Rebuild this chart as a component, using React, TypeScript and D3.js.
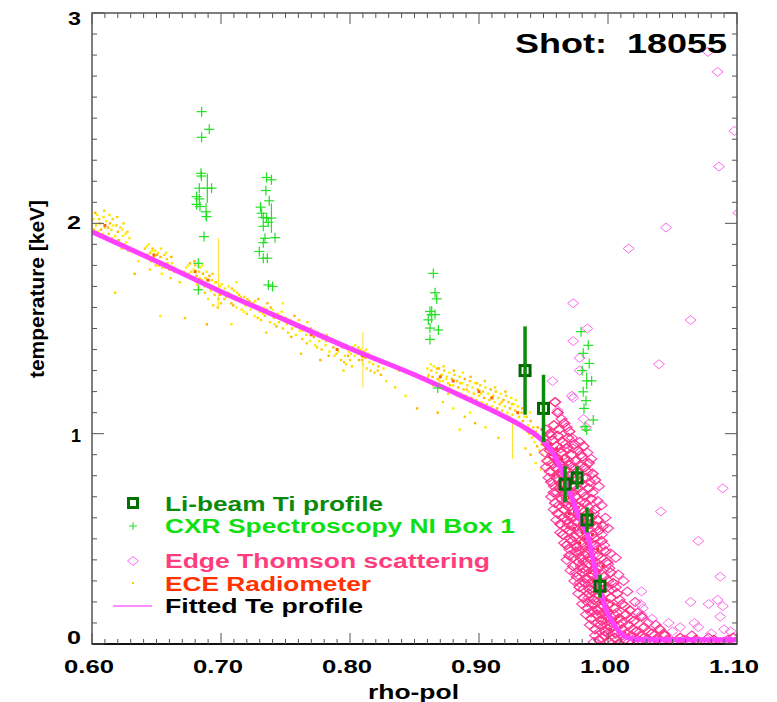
import React from 'react';
import * as d3 from 'd3';

// ---------- data ----------
const xTickValues = [0.6, 0.7, 0.8, 0.9, 1.0, 1.1];
const xTickLabels = ['0.60', '0.70', '0.80', '0.90', '1.00', '1.10'];
const yTickValues = [0, 1, 2, 3];
const yTickLabels = ['0', '1', '2', '3'];
const shotLabel = 'Shot:  18055';
const xTitle = 'rho-pol';
const yTitle = 'temperature [keV]';

const legendNames = ['Li-beam Ti profile', 'CXR Spectroscopy NI Box 1', 'Edge Thomson scattering', 'ECE Radiometer', 'Fitted Te profile'];

// fitted Te profile [rho, keV]
const fittedTe: [number, number][] = [
  [0.60, 1.96], [0.65, 1.82], [0.70, 1.675], [0.75, 1.54], [0.80, 1.405], [0.85, 1.28], [0.90, 1.14],
  [0.92, 1.08], [0.935, 1.03], [0.945, 0.99], [0.955, 0.93], [0.963, 0.84], [0.970, 0.73], [0.977, 0.61],
  [0.984, 0.52], [0.991, 0.33], [0.998, 0.17], [1.004, 0.10], [1.010, 0.05], [1.018, 0.025], [1.03, 0.02], [1.10, 0.02],
];

// ECE radiometer points (yellow)
const eceYellow: [number, number][] = [
  [0.601,2.02],[0.603,1.99],[0.604,2.04],[0.606,2.00],[0.607,1.97],[0.609,2.03],[0.610,1.98],[0.611,2.01],[0.613,1.95],[0.614,2.00],
  [0.615,1.97],[0.616,2.02],[0.618,1.94],[0.619,1.99],[0.620,1.96],[0.621,1.92],[0.622,1.98],[0.624,1.94],[0.625,1.90],[0.612,1.93],
  [0.617,1.91],[0.623,1.88],[0.626,1.95],[0.628,1.87],[0.633,1.76],[0.629,1.93],[0.618,1.67],[0.653,1.56],
  [0.641,1.88],[0.643,1.85],[0.644,1.90],[0.645,1.86],[0.646,1.83],[0.647,1.88],[0.648,1.84],[0.649,1.87],[0.650,1.82],[0.651,1.86],
  [0.652,1.80],[0.653,1.84],[0.655,1.81],[0.656,1.85],[0.657,1.79],[0.658,1.83],[0.660,1.78],[0.662,1.81],[0.645,1.78],[0.654,1.76],
  [0.661,1.74],[0.664,1.77],[0.636,1.82],[0.668,1.72],
  [0.673,1.79],[0.675,1.76],[0.676,1.81],[0.677,1.77],[0.678,1.74],[0.679,1.78],[0.680,1.80],[0.681,1.75],[0.682,1.72],[0.683,1.77],
  [0.684,1.79],[0.685,1.73],[0.686,1.76],[0.687,1.70],[0.688,1.74],[0.689,1.77],[0.690,1.71],[0.691,1.75],[0.692,1.68],[0.693,1.73],
  [0.694,1.70],[0.695,1.66],[0.696,1.72],[0.697,1.68],[0.698,1.64],[0.699,1.70],[0.700,1.62],[0.701,1.67],[0.690,1.64],[0.694,1.61],
  [0.683,1.69],[0.672,1.55],[0.689,1.52],
  [0.703,1.69],[0.704,1.65],[0.706,1.70],[0.707,1.66],[0.708,1.62],[0.710,1.68],[0.711,1.64],[0.712,1.60],[0.714,1.66],[0.715,1.63],
  [0.716,1.59],[0.718,1.65],[0.719,1.61],[0.720,1.57],[0.722,1.63],[0.723,1.59],[0.725,1.62],[0.726,1.56],[0.727,1.60],[0.729,1.64],
  [0.730,1.58],[0.731,1.54],[0.733,1.60],[0.734,1.56],[0.736,1.62],[0.737,1.57],[0.738,1.53],[0.740,1.59],[0.741,1.55],[0.743,1.51],
  [0.744,1.57],[0.745,1.53],[0.747,1.58],[0.748,1.50],[0.750,1.55],[0.751,1.52],[0.752,1.48],[0.754,1.54],[0.755,1.50],[0.757,1.56],
  [0.758,1.47],[0.760,1.52],[0.761,1.49],[0.763,1.45],[0.764,1.51],[0.766,1.47],[0.767,1.53],[0.769,1.44],[0.770,1.49],[0.772,1.46],
  [0.773,1.42],[0.775,1.48],[0.776,1.44],[0.778,1.40],[0.779,1.46],[0.781,1.42],[0.782,1.47],[0.784,1.39],[0.785,1.44],[0.787,1.41],
  [0.788,1.37],[0.790,1.43],[0.791,1.39],[0.793,1.35],[0.794,1.41],[0.796,1.37],[0.797,1.33],[0.799,1.39],[0.800,1.35],[0.802,1.41],
  [0.712,1.72],[0.735,1.48],[0.748,1.62],[0.762,1.38],[0.777,1.35],[0.708,1.52],[0.795,1.30],
  [0.804,1.42],[0.806,1.38],[0.807,1.35],[0.808,1.40],[0.809,1.37],[0.810,1.33],[0.811,1.39],[0.812,1.36],[0.813,1.31],[0.814,1.38],
  [0.815,1.34],[0.816,1.30],[0.817,1.36],[0.818,1.33],[0.819,1.29],[0.820,1.35],[0.822,1.32],[0.824,1.28],
  [0.828,1.25],[0.835,1.22],[0.843,1.18],[0.838,1.30],[0.852,1.12],
  [0.860,1.31],[0.861,1.28],[0.862,1.25],[0.863,1.30],[0.864,1.27],[0.865,1.32],[0.866,1.24],[0.867,1.29],[0.868,1.26],[0.869,1.31],
  [0.870,1.23],[0.871,1.28],[0.872,1.25],[0.873,1.30],[0.874,1.22],[0.875,1.27],[0.876,1.24],[0.877,1.29],[0.878,1.21],[0.879,1.26],
  [0.880,1.23],[0.881,1.28],[0.882,1.20],[0.883,1.25],[0.884,1.22],[0.885,1.27],[0.886,1.19],[0.887,1.24],[0.888,1.21],[0.889,1.26],
  [0.890,1.18],[0.891,1.23],[0.892,1.20],[0.893,1.25],[0.894,1.17],[0.895,1.22],[0.896,1.19],[0.897,1.24],[0.898,1.16],[0.899,1.21],
  [0.900,1.18],[0.901,1.23],[0.902,1.15],[0.903,1.20],[0.904,1.17],[0.905,1.22],[0.906,1.14],[0.907,1.19],[0.908,1.16],[0.909,1.21],
  [0.910,1.13],[0.911,1.18],[0.912,1.15],[0.913,1.20],[0.914,1.12],[0.915,1.17],[0.916,1.14],[0.917,1.19],[0.918,1.11],[0.919,1.16],
  [0.920,1.13],[0.921,1.18],[0.922,1.10],[0.923,1.15],[0.924,1.12],[0.925,1.17],[0.926,1.09],[0.927,1.14],[0.928,1.11],[0.929,1.06],
  [0.930,1.13],[0.931,1.08],[0.932,1.04],[0.933,1.10],[0.934,1.06],[0.935,1.02],
  [0.872,1.15],[0.880,1.12],[0.889,1.08],[0.897,1.05],[0.905,1.03],[0.876,1.19],[0.893,1.10],[0.915,0.98],[0.868,1.10],[0.885,1.02],
  [0.937,1.08],[0.938,1.04],[0.939,1.00],[0.940,1.06],[0.941,0.98],[0.942,1.03],[0.943,0.96],[0.944,1.01],[0.945,0.94],[0.946,0.99],
  [0.947,0.92],[0.948,0.97],[0.949,0.90],[0.950,0.95],[0.951,0.88],[0.952,0.93],[0.953,0.86],[0.954,0.91],[0.940,0.90],[0.944,0.86],
  [0.936,0.93],[0.948,0.83],
];

// more ECE radiometer points (yellow, later time slices)
const eceYellow2: [number, number][] = [
  [0.6015,1.97],[0.6025,2.05],[0.6045,1.96],[0.6055,2.02],[0.6085,1.95],[0.6095,2.06],[0.6125,1.98],[0.6135,2.04],[0.6155,1.93],[0.6165,1.99],
  [0.6195,2.03],[0.6205,1.92],[0.6235,1.97],[0.6245,2.00],[0.6265,1.91],[0.6275,1.96],
  [0.6415,1.84],[0.6425,1.89],[0.6455,1.82],[0.6465,1.87],[0.6495,1.80],[0.6505,1.85],[0.6535,1.88],[0.6545,1.79],[0.6575,1.86],[0.6585,1.81],
  [0.6615,1.84],[0.6635,1.79],
  [0.6715,1.77],[0.6745,1.80],[0.6765,1.74],[0.6795,1.82],[0.6815,1.71],[0.6835,1.74],[0.6855,1.80],[0.6875,1.67],[0.6895,1.73],[0.6915,1.69],
  [0.6935,1.76],[0.6955,1.72],[0.6975,1.60],[0.6995,1.66],[0.7005,1.71],
  [0.7025,1.64],[0.7055,1.67],[0.7085,1.69],[0.7095,1.61],[0.7125,1.67],[0.7155,1.65],[0.7175,1.58],[0.7205,1.64],[0.7235,1.61],[0.7265,1.63],
  [0.7285,1.55],[0.7325,1.57],[0.7355,1.59],[0.7385,1.60],[0.7415,1.52],[0.7455,1.56],[0.7485,1.54],[0.7525,1.53],[0.7545,1.46],[0.7575,1.51],
  [0.7605,1.54],[0.7635,1.49],[0.7665,1.43],[0.7695,1.50],[0.7725,1.48],[0.7745,1.41],[0.7785,1.45],[0.7815,1.44],[0.7835,1.37],[0.7865,1.45],
  [0.7895,1.38],[0.7925,1.42],[0.7955,1.34],[0.7985,1.37],[0.8005,1.38],[0.8015,1.32],
  [0.8035,1.37],[0.8065,1.41],[0.8095,1.35],[0.8125,1.40],[0.8155,1.37],[0.8185,1.35],[0.8215,1.30],[0.8235,1.34],[0.8260,1.31],
  [0.8605,1.27],[0.8625,1.33],[0.8645,1.23],[0.8675,1.31],[0.8695,1.25],[0.8725,1.32],[0.8745,1.26],[0.8775,1.23],[0.8805,1.30],[0.8835,1.18],
  [0.8855,1.24],[0.8875,1.29],[0.8905,1.21],[0.8935,1.27],[0.8955,1.15],[0.8985,1.24],[0.9015,1.19],[0.9045,1.25],[0.9065,1.12],[0.9095,1.17],
  [0.9125,1.22],[0.9155,1.10],[0.9175,1.15],[0.9205,1.20],[0.9235,1.08],[0.9255,1.14],[0.9285,1.16],[0.9305,1.05],[0.9335,1.12],[0.9355,1.08],
  [0.9375,1.01],[0.9395,1.10],[0.9425,0.99],[0.9455,1.03],[0.9485,0.95],[0.9515,0.99],[0.9535,0.89],
];

// ECE radiometer points drawn red (band + steep gradient region)
const eceRed: [number, number][] = [
  [0.610,1.99],[0.648,1.85],[0.680,1.77],[0.690,1.73],[0.720,1.62],[0.750,1.54],[0.770,1.47],[0.790,1.40],[0.810,1.37],
  [0.870,1.27],[0.880,1.25],[0.900,1.20],[0.910,1.17],[0.930,1.10],[0.950,0.97],
  [0.951,0.97],[0.953,0.93],[0.955,0.95],[0.956,0.90],[0.957,0.92],[0.958,0.87],[0.959,0.89],[0.960,0.85],[0.961,0.88],[0.962,0.82],
  [0.963,0.85],[0.964,0.79],[0.965,0.83],[0.966,0.76],[0.967,0.80],[0.968,0.73],[0.969,0.77],[0.970,0.70],[0.971,0.74],[0.972,0.67],
  [0.973,0.71],[0.974,0.63],[0.975,0.68],[0.976,0.60],[0.977,0.65],[0.978,0.57],[0.979,0.61],[0.980,0.53],[0.981,0.58],[0.982,0.50],
  [0.983,0.54],[0.984,0.46],[0.985,0.50],[0.986,0.42],[0.987,0.46],[0.988,0.38],[0.989,0.42],[0.990,0.34],[0.991,0.38],[0.992,0.30],
  [0.993,0.34],[0.994,0.26],[0.995,0.30],[0.996,0.22],[0.997,0.25],[0.998,0.18],[0.999,0.21],[1.000,0.14],[1.002,0.16],[1.004,0.10],
  [1.006,0.12],[1.008,0.07],[1.010,0.08],[1.013,0.05],[1.016,0.04],[1.020,0.03],[1.025,0.02],
  [0.958,0.80],[0.962,0.75],[0.966,0.68],[0.970,0.62],[0.974,0.55],[0.978,0.48],[0.982,0.41],[0.986,0.34],[0.990,0.27],[0.994,0.20],
  [0.998,0.12],[1.002,0.07],[0.960,0.93],[0.964,0.88],[0.968,0.84],[0.972,0.78],[0.976,0.72],[0.980,0.66],[0.984,0.59],[0.988,0.52],
  [0.992,0.45],[0.996,0.37],[1.000,0.28],[1.004,0.19],[1.008,0.13],
  [1.030,0.02],[1.040,0.015],[1.050,0.02],[1.055,0.025],[1.060,0.02],[1.065,0.015],[1.070,0.02],[1.075,0.018],[1.080,0.022],
  [1.085,0.015],[1.090,0.02],[1.095,0.018],
];

// ECE vertical error bars [rho, low, high]
const eceErr: [number, number, number][] = [
  [0.698, 1.59, 1.93], [0.810, 1.22, 1.485], [0.926, 0.88, 1.06],
];

// Edge Thomson scattering, main cloud [rho, keV]
const thomsonCloud: [number, number][] = [
  [0.958,1.04],[0.962,1.02],[0.966,1.05],[0.955,1.00],[0.970,1.01],[0.959,1.15],[0.961,1.10],
  [0.957,0.97],[0.961,0.99],[0.965,0.96],[0.969,0.98],[0.974,0.95],[0.953,0.95],
  [0.955,0.92],[0.960,0.94],[0.964,0.91],[0.968,0.93],[0.972,0.90],[0.977,0.92],[0.981,0.94],
  [0.953,0.87],[0.958,0.89],[0.962,0.86],[0.966,0.88],[0.970,0.85],[0.975,0.87],[0.980,0.89],[0.985,0.86],
  [0.955,0.82],[0.959,0.84],[0.963,0.81],[0.967,0.83],[0.971,0.80],[0.976,0.82],[0.982,0.84],[0.988,0.81],
  [0.956,0.77],[0.960,0.79],[0.964,0.76],[0.968,0.78],[0.973,0.75],[0.978,0.77],[0.983,0.79],[0.990,0.78],
  [0.958,0.72],[0.962,0.74],[0.966,0.71],[0.970,0.73],[0.975,0.70],[0.980,0.72],[0.985,0.74],
  [0.959,0.67],[0.964,0.69],[0.968,0.66],[0.972,0.68],[0.977,0.65],[0.982,0.67],[0.987,0.69],
  [0.961,0.62],[0.966,0.64],[0.970,0.61],[0.974,0.63],[0.979,0.60],[0.984,0.62],[0.990,0.64],
  [0.963,0.57],[0.968,0.59],[0.972,0.56],[0.976,0.58],[0.981,0.55],[0.986,0.57],[0.992,0.59],[0.996,0.56],
  [0.965,0.52],[0.970,0.54],[0.974,0.51],[0.978,0.53],[0.983,0.50],[0.988,0.52],[0.993,0.54],
  [0.968,0.47],[0.972,0.49],[0.976,0.46],[0.980,0.48],[0.985,0.45],[0.990,0.47],[0.995,0.49],
  [0.970,0.42],[0.975,0.44],[0.979,0.41],[0.983,0.43],[0.987,0.40],[0.992,0.42],[0.998,0.44],
  [0.973,0.37],[0.977,0.39],[0.981,0.36],[0.985,0.38],[0.989,0.35],[0.994,0.37],[0.999,0.39],
  [0.976,0.32],[0.980,0.34],[0.984,0.31],[0.988,0.33],[0.992,0.30],[0.997,0.32],[1.002,0.34],
  [0.978,0.27],[0.982,0.29],[0.986,0.26],[0.990,0.28],[0.994,0.25],[0.999,0.27],[1.004,0.29],
  [0.981,0.22],[0.985,0.24],[0.989,0.21],[0.993,0.23],[0.997,0.20],[1.002,0.22],[1.007,0.24],
  [0.984,0.17],[0.988,0.19],[0.992,0.16],[0.996,0.18],[1.000,0.15],[1.005,0.17],[1.011,0.19],[1.017,0.16],
  [0.987,0.12],[0.991,0.14],[0.995,0.11],[0.999,0.13],[1.003,0.10],[1.008,0.12],[1.014,0.14],[1.020,0.11],[1.026,0.13],
  [0.990,0.07],[0.994,0.09],[0.998,0.06],[1.002,0.08],[1.006,0.05],[1.011,0.07],[1.016,0.09],[1.022,0.06],[1.028,0.08],[1.034,0.05],[1.040,0.07],
  [0.993,0.02],[0.997,0.04],[1.001,0.01],[1.005,0.03],[1.009,0.00],[1.013,0.02],[1.018,0.04],[1.023,0.01],[1.028,0.03],[1.033,0.00],
  [1.038,0.02],[1.044,0.04],[1.050,0.01],[1.056,0.03],[1.062,0.01],[1.068,0.02],[1.075,0.00],[1.082,0.02],[1.090,0.01],[1.097,0.03],
];

// Edge Thomson scattering, second set of profiles in the cloud
const thomsonCloud2: [number, number][] = [
  [0.952,1.02],[0.964,1.07],[0.968,1.03],[0.972,0.98],[0.978,0.96],[0.956,0.99],
  [0.951,0.91],[0.957,0.90],[0.963,0.93],[0.967,0.95],[0.973,0.93],[0.979,0.90],[0.984,0.91],
  [0.952,0.84],[0.957,0.86],[0.961,0.83],[0.965,0.85],[0.969,0.87],[0.974,0.84],[0.978,0.85],[0.984,0.82],[0.987,0.88],
  [0.954,0.79],[0.958,0.75],[0.962,0.78],[0.966,0.80],[0.970,0.77],[0.975,0.79],[0.980,0.76],[0.986,0.77],[0.993,0.75],
  [0.956,0.70],[0.960,0.72],[0.964,0.73],[0.968,0.69],[0.973,0.72],[0.977,0.74],[0.982,0.70],[0.988,0.72],[0.992,0.68],
  [0.958,0.64],[0.962,0.66],[0.966,0.67],[0.970,0.65],[0.975,0.66],[0.979,0.68],[0.985,0.65],[0.989,0.62],[0.995,0.66],
  [0.960,0.59],[0.965,0.60],[0.969,0.57],[0.973,0.60],[0.977,0.61],[0.982,0.58],[0.987,0.60],[0.991,0.56],[0.998,0.60],
  [0.963,0.53],[0.967,0.55],[0.971,0.50],[0.975,0.55],[0.980,0.52],[0.985,0.54],[0.990,0.50],[0.995,0.52],[1.000,0.55],
  [0.966,0.48],[0.970,0.45],[0.974,0.47],[0.978,0.44],[0.982,0.46],[0.987,0.48],[0.992,0.45],[0.997,0.47],[1.002,0.43],
  [0.968,0.40],[0.973,0.41],[0.977,0.43],[0.981,0.39],[0.985,0.41],[0.990,0.38],[0.995,0.41],[1.000,0.38],[1.006,0.41],
  [0.971,0.35],[0.975,0.34],[0.979,0.37],[0.983,0.35],[0.987,0.33],[0.991,0.36],[0.996,0.33],[1.001,0.36],[1.008,0.33],
  [0.974,0.30],[0.978,0.29],[0.982,0.31],[0.986,0.29],[0.990,0.31],[0.995,0.28],[1.000,0.30],[1.006,0.27],[1.012,0.30],
  [0.977,0.24],[0.981,0.26],[0.985,0.22],[0.989,0.25],[0.993,0.27],[0.998,0.24],[1.003,0.26],[1.009,0.21],[1.015,0.25],
  [0.980,0.19],[0.984,0.20],[0.988,0.16],[0.992,0.20],[0.996,0.15],[1.001,0.19],[1.007,0.15],[1.013,0.18],[1.021,0.20],
  [0.983,0.14],[0.987,0.15],[0.991,0.10],[0.995,0.14],[1.000,0.11],[1.005,0.14],[1.011,0.10],[1.017,0.12],[1.023,0.15],[1.031,0.10],
  [0.986,0.09],[0.990,0.04],[0.994,0.06],[0.999,0.09],[1.004,0.06],[1.009,0.09],[1.014,0.05],[1.019,0.07],[1.025,0.04],[1.031,0.06],[1.037,0.09],[1.043,0.05],
  [0.989,0.01],[0.995,0.03],[1.000,0.05],[1.003,0.00],[1.007,0.02],[1.011,0.04],[1.016,0.01],[1.021,0.03],[1.026,0.00],[1.031,0.02],
  [1.036,0.04],[1.041,0.00],[1.047,0.02],[1.053,0.00],[1.059,0.02],[1.065,0.04],[1.071,0.01],[1.078,0.03],[1.086,0.00],[1.093,0.02],[1.099,0.01],
];

// Edge Thomson scattering, scattered points
const thomsonScatter: [number, number][] = [
  [1.0775,2.815],[1.085,2.72],[1.098,2.44],[1.086,2.27],[1.101,2.05],[1.045,1.98],[1.016,1.88],[1.064,1.54],
  [0.973,1.62],[0.984,1.50],[0.973,1.44],[0.978,1.36],[0.978,1.30],[0.957,1.25],[0.972,1.18],[0.973,1.17],[0.961,1.11],
  [0.981,1.07],[0.983,1.03],[1.0395,1.33],[1.089,0.74],[1.041,0.63],[1.070,0.49],[1.087,0.32],[0.988,0.79],[0.995,0.46],
  [1.026,0.25],[1.025,0.19],[1.027,0.17],[1.026,0.14],[1.034,0.12],[1.064,0.20],[1.078,0.19],[1.085,0.21],[1.089,0.18],
  [1.087,0.13],[1.067,0.10],[1.047,0.10],[1.056,0.08],[1.090,0.07],[1.070,0.08],[1.050,0.06],[1.080,0.05],[1.095,0.06],
];

// CXR Spectroscopy [rho, keV, error]
const cxr: [number, number, number][] = [
  [0.6850,2.531,0],[0.6909,2.447,0],[0.6850,2.409,0],[0.6845,2.238,0],[0.6848,2.225,0],[0.6832,2.167,0],[0.6894,2.167,0.07],
  [0.6927,2.167,0],[0.6811,2.127,0],[0.6832,2.116,0],[0.6811,2.090,0],[0.6837,2.080,0],[0.6884,2.055,0.04],[0.6888,2.032,0],
  [0.6868,1.937,0],[0.6824,1.810,0],[0.6824,1.684,0],
  [0.7353,2.218,0],[0.7391,2.207,0],[0.7348,2.156,0],[0.7374,2.107,0],[0.7307,2.077,0],[0.7315,2.048,0],[0.7328,2.028,0],
  [0.7353,2.025,0],[0.7391,2.025,0.07],[0.7366,2.005,0],[0.7328,1.986,0],[0.7341,1.929,0],[0.7419,1.932,0],[0.7328,1.908,0],
  [0.7297,1.866,0],[0.7328,1.834,0],[0.7359,1.834,0],[0.7367,1.707,0],[0.7400,1.700,0],
  [0.8646,1.762,0],[0.8659,1.670,0],[0.8672,1.641,0],[0.8620,1.581,0],[0.8633,1.566,0.04],[0.8659,1.566,0],[0.8607,1.541,0],
  [0.8620,1.502,0],[0.8685,1.493,0],[0.8620,1.448,0],[0.8680,1.217,0],
  [0.9791,1.485,0],[0.9847,1.420,0],[0.9808,1.382,0],[0.9855,1.334,0],[0.9835,1.251,0.04],[0.9873,1.251,0],[0.9808,1.199,0],
  [0.9829,1.157,0],[0.9814,1.120,0],[0.9886,1.065,0],[0.9822,1.033,0],[0.9835,1.017,0],[0.9800,1.300,0],
];

// Li-beam Ti profile [rho, keV, error]
const liBeam: [number, number, number][] = [
  [0.9357, 1.30, 0.21], [0.950, 1.12, 0.16], [0.9667, 0.76, 0.085], [0.976, 0.79, 0.055], [0.9837, 0.59, 0.06], [0.9938, 0.275, 0.055],
];

// ---------- component ----------
const W = 777, H = 702;
const PL = 92, PR = 737, PT = 13, PB = 644;
const FONT = '"Liberation Sans", Arial, Helvetica, sans-serif';

export default function App() {
  const x = d3.scaleLinear().domain([0.6, 1.1]).range([PL, PR]);
  const y = d3.scaleLinear().domain([0, 3]).range([PB, PT]);
  const line = d3.line<[number, number]>().x(d => x(d[0])).y(d => y(d[1])).curve(d3.curveMonotoneX);

  const xMinor = d3.range(0, 51).map(i => 0.6 + i * 0.01);
  const yMinor = d3.range(0, 31).map(i => i * 0.1);
  const axisColor = '#555';

  const diamond = (cx: number, cy: number) => `M${cx},${cy - 4.5}L${cx + 5.5},${cy}L${cx},${cy + 4.5}L${cx - 5.5},${cy}Z`;
  const yellowShades = ['#ffe800', '#ffd800', '#fff000', '#ffd000', '#ffb800'];
  const yLabelBase = [644, 442, 229, 25];
  const yLabelLen = [14, 10, 14, 13];
  const allYellow = eceYellow.concat(eceYellow2);

  return (
    <svg width={W} height={H} style={{ position: 'absolute', left: 0, top: 0, background: '#fff' }}>
      <defs>
        <clipPath id="plotClip"><rect x={PL} y={PT} width={PR - PL} height={PB - PT} /></clipPath>
      </defs>
      <rect x={0} y={0} width={W} height={H} fill="#fff" />

      <g clipPath="url(#plotClip)">
        {/* ECE yellow */}
        {allYellow.map((d, i) => (
          <rect key={'ey' + i} x={x(d[0]) - 1.2} y={y(d[1]) - 1.2} width={2.4} height={2.4} fill={yellowShades[i % 5]} />
        ))}
        {eceErr.map((d, i) => (
          <line key={'ee' + i} x1={x(d[0])} x2={x(d[0])} y1={y(d[1])} y2={y(d[2])} stroke="#ffe030" strokeWidth={1} />
        ))}
        {/* Thomson */}
        {thomsonScatter.map((d, i) => (
          <path key={'ts' + i} d={diamond(x(d[0]), y(d[1]))} fill="none" stroke="#ff66ee" strokeWidth={1} />
        ))}
        {eceRed.map((d, i) => (
          <rect key={'er' + i} x={x(d[0]) - 1.5} y={y(d[1]) - 1.5} width={3} height={3} fill={i < 15 ? '#ff6a00' : '#ff1e28'} />
        ))}
        {thomsonCloud2.map((d, i) => (
          <path key={'tc2' + i} d={diamond(x(d[0]), y(d[1]))} fill="none" stroke="#ff44b0" strokeWidth={1.2} />
        ))}
        {thomsonCloud.map((d, i) => (
          <path key={'tc' + i} d={diamond(x(d[0]), y(d[1]))} fill="none" stroke="#ff3385" strokeWidth={1.4} />
        ))}
        {/* fitted line */}
        <path d={line(fittedTe) || ''} fill="none" stroke="#ff40ff" strokeWidth={5} strokeLinejoin="round" />
        {/* CXR */}
        {cxr.map((d, i) => {
          const cx = x(d[0]), cy = y(d[1]);
          const e = d[2] > 0 ? Math.max(5, Math.abs(y(d[1] + d[2]) - cy)) : 5;
          return (
            <g key={'cx' + i} stroke="#22e022" strokeWidth={1.2}>
              <line x1={cx - 5} x2={cx + 5} y1={cy} y2={cy} />
              <line x1={cx} x2={cx} y1={cy - e} y2={cy + e} />
            </g>
          );
        })}
        {/* Li-beam */}
        {liBeam.map((d, i) => {
          const cx = x(d[0]), cy = y(d[1]);
          return (
            <g key={'li' + i}>
              <rect x={cx - 5} y={cy - 5} width={10} height={10} fill="none" stroke="#006400" strokeWidth={3} />
              <line x1={cx} x2={cx} y1={y(d[1] - d[2])} y2={y(d[1] + d[2])} stroke="#0a8c0a" strokeWidth={3.5} />
            </g>
          );
        })}
      </g>

      {/* axes frame */}
      <rect x={PL} y={PT} width={PR - PL} height={PB - PT} fill="none" stroke={axisColor} strokeWidth={1.5} />
      <line x1={PL} x2={PR} y1={PB} y2={PB} stroke="#111" strokeWidth={2} />
      {xMinor.map((v, i) => {
        const major = i % 10 === 0;
        const len = major ? 11 : 5;
        return (
          <g key={'xt' + i} stroke={axisColor} strokeWidth={1}>
            <line x1={x(v)} x2={x(v)} y1={PB} y2={PB - len} />
            <line x1={x(v)} x2={x(v)} y1={PT} y2={PT + len} />
          </g>
        );
      })}
      {yMinor.map((v, i) => {
        const major = i % 10 === 0;
        const len = major ? 12 : 5;
        return (
          <g key={'yt' + i} stroke={axisColor} strokeWidth={1}>
            <line x1={PL} x2={PL + len} y1={y(v)} y2={y(v)} />
            <line x1={PR} x2={PR - len} y1={y(v)} y2={y(v)} />
          </g>
        );
      })}

      {/* tick labels */}
      {xTickValues.map((v, i) => (
        <text key={'xl' + i} x={x(v) - 3} y={673} textAnchor="middle" fontFamily={FONT} fontWeight="bold" fontSize={19}
          textLength={50} lengthAdjust="spacingAndGlyphs" fill="#000">{xTickLabels[i]}</text>
      ))}
      {yTickValues.map((v, i) => (
        <text key={'yl' + i} x={81 - yLabelLen[i]} y={yLabelBase[i]} fontFamily={FONT} fontWeight="bold" fontSize={19}
          textLength={yLabelLen[i]} lengthAdjust="spacingAndGlyphs" fill="#000">{yTickLabels[i]}</text>
      ))}

      {/* titles */}
      <text x={368} y={699} fontFamily={FONT} fontWeight="bold" fontSize={20} textLength={91} lengthAdjust="spacingAndGlyphs">{xTitle}</text>
      <text transform="translate(44,378) rotate(-90)" x={0} y={0} fontFamily={FONT} fontWeight="bold" fontSize={20}
        textLength={178} lengthAdjust="spacingAndGlyphs">{yTitle}</text>
      <text x={515} y={53} fontFamily={FONT} fontWeight="bold" fontSize={28} textLength={212} lengthAdjust="spacingAndGlyphs" xmlSpace="preserve">{shotLabel}</text>

      {/* legend */}
      <g>
        <rect x={128.5} y={498.5} width={9} height={9} fill="none" stroke="#007000" strokeWidth={3} />
        <line x1={129} x2={137} y1={526} y2={526} stroke="#22e022" strokeWidth={1} />
        <line x1={133} x2={133} y1={522} y2={530} stroke="#22e022" strokeWidth={1} />
        <path d={diamond(133, 561)} fill="none" stroke="#ff66ff" strokeWidth={1} />
        <rect x={132} y={582} width={2} height={2} fill="#ffd000" />
        <line x1={113} x2={152} y1={606} y2={606} stroke="#ff66ff" strokeWidth={1.5} />
        <text x={165} y={511} fontFamily={FONT} fontWeight="bold" fontSize={20} fill="#0a8a0a" textLength={218} lengthAdjust="spacingAndGlyphs">{legendNames[0]}</text>
        <text x={165} y={533} fontFamily={FONT} fontWeight="bold" fontSize={20} fill="#10e010" textLength={350} lengthAdjust="spacingAndGlyphs">{legendNames[1]}</text>
        <text x={165} y={568} fontFamily={FONT} fontWeight="bold" fontSize={20} fill="#ff3c7c" textLength={325} lengthAdjust="spacingAndGlyphs">{legendNames[2]}</text>
        <text x={165} y={591} fontFamily={FONT} fontWeight="bold" fontSize={20} fill="#ff3200" textLength={206} lengthAdjust="spacingAndGlyphs">{legendNames[3]}</text>
        <text x={165} y={613} fontFamily={FONT} fontWeight="bold" fontSize={20} fill="#000" textLength={198} lengthAdjust="spacingAndGlyphs">{legendNames[4]}</text>
      </g>
    </svg>
  );
}
